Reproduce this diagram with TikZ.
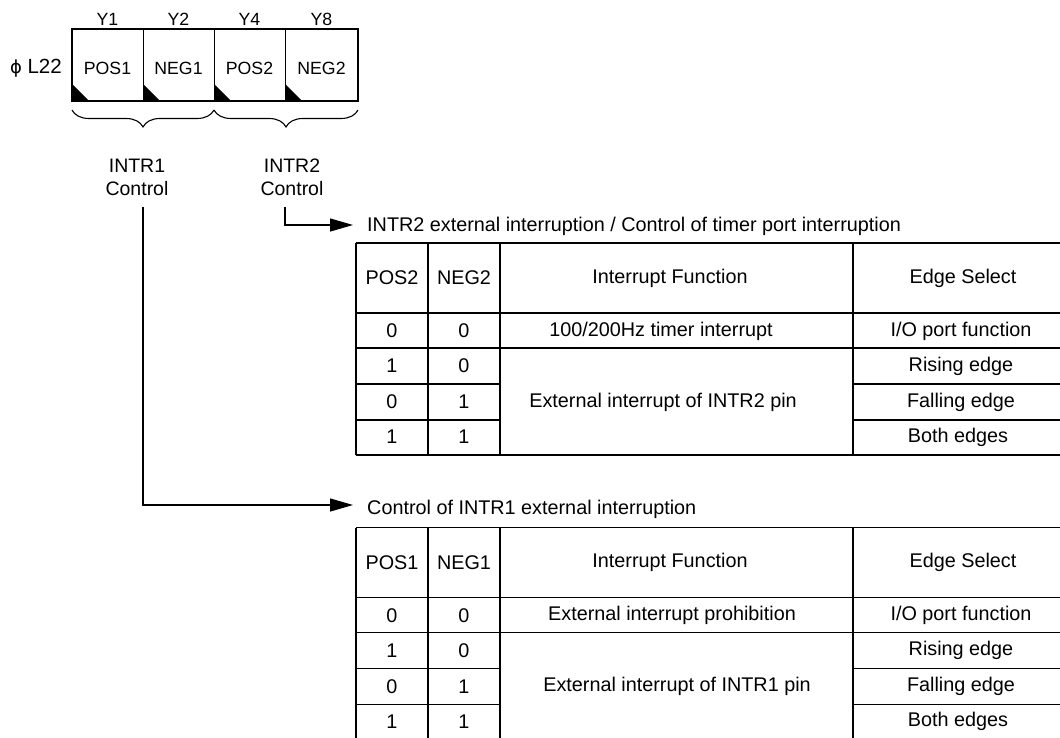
\documentclass[tikz,border=0pt]{standalone}
\usepackage{fontspec}
\setmainfont{Liberation Sans}
\newfontfamily\dejavu{DejaVu Sans}
\usetikzlibrary{arrows.meta,decorations.pathreplacing}
\begin{document}
\begin{tikzpicture}[x=1pt,y=-1pt,
  tb/.style={font=\fontsize{19.8}{23}\selectfont, inner sep=0pt, anchor=center},
  rg/.style={font=\fontsize{17.7}{21}\selectfont, inner sep=0pt, anchor=center},
  lbl/.style={font=\fontsize{19.5}{23}\selectfont, inner sep=0pt, align=center},
  ttl/.style={font=\fontsize{19.8}{23}\selectfont, inner sep=0pt, anchor=west},
  tline/.style={line width=1.6pt},
  thinline/.style={line width=0.9pt},
  conn/.style={line width=1.3pt, -{Triangle[length=23pt,width=13pt]}},
  brc/.style={line width=1.1pt, decorate, decoration={brace, mirror, amplitude=17pt}},
]
\useasboundingbox (0,0) rectangle (1060,738);
\clip (0,0) rectangle (1060,738);

% ---------- register ----------
\node[font=\fontsize{20.5}{23}\selectfont, inner sep=0pt, anchor=east] (l22) at (62,68) {{\dejavu\fontsize{18}{20}\selectfont ϕ} L22};
\foreach \x in {72,143,214,285}{
  \fill (\x,84) -- (\x,101) -- (\x+17,101) -- cycle;
}
\draw[thinline] (143,29) -- (143,101) (214,29) -- (214,101) (285,29) -- (285,101);
\draw[tline] (72,29) rectangle (358,101);
\node[rg] (y1) at (107.5,19) {Y1};
\node[rg] (y2) at (178.5,19) {Y2};
\node[rg] (y4) at (249.5,19) {Y4};
\node[rg] (y8) at (321.5,19) {Y8};
\node[rg] (rpos1) at (107.5,68) {POS1};
\node[rg] (rneg1) at (178.5,68) {NEG1};
\node[rg] (rpos2) at (249.5,68) {POS2};
\node[rg] (rneg2) at (321.5,68) {NEG2};

\draw[brc] (72,110) -- (214,110);
\draw[brc] (214,110) -- (358,110);

\node[lbl] (c1) at (137,177) {INTR1\\Control};
\node[lbl] (c2) at (292,177) {INTR2\\Control};

\coordinate (s1) at (143,207);
\coordinate (s2) at (285,207);
\coordinate (a1) at (353,225);
\coordinate (a2) at (353,505);
\draw[conn] (s2) |- (a1);
\draw[conn] (s1) |- (a2);

\node[ttl] (title2) at (367,226) {INTR2 external interruption / Control of timer port interruption};
\node[ttl] (title1) at (367,509) {Control of INTR1 external interruption};

% ---------- table macro ----------
\newcommand{\inttable}[6]{%
  % #1 POS, #2 NEG, #3 row1 text, #4 row1 x, #5 merged text, #6 merged x
  \draw[tline] (356,243) -- (1075,243);
  \draw[tline] (356,313) -- (1075,313);
  \draw[tline] (356,348) -- (1075,348);
  \draw[tline] (356,384) -- (500,384) (853,384) -- (1075,384);
  \draw[tline] (356,420) -- (500,420) (853,420) -- (1075,420);
  \draw[tline] (356,455) -- (1075,455);
  \draw[tline] (356,243) -- (356,455);
  \draw[tline] (428,243) -- (428,455);
  \draw[tline] (500,243) -- (500,455);
  \draw[tline] (853,243) -- (853,455);
  \node[tb] (hp) at (392,278) {#1};
  \node[tb] (hn) at (464,278) {#2};
  \node[tb] (hf) at (670,278) {Interrupt Function};
  \node[tb] (he) at (963,278) {Edge Select};
  \node[tb] (p1) at (392,331) {0};
  \node[tb] (n1) at (464,331) {0};
  \node[tb] (f1) at (#4,331) {#3};
  \node[tb] (e1) at (961,331) {I/O port function};
  \node[tb] (p2) at (392,366) {1};
  \node[tb] (n2) at (464,366) {0};
  \node[tb] (p3) at (392,402) {0};
  \node[tb] (n3) at (464,402) {1};
  \node[tb] (p4) at (392,437) {1};
  \node[tb] (n4) at (464,437) {1};
  \node[tb] (fm) at (#6,402) {#5};
  \node[tb] (e2) at (961,366) {Rising edge};
  \node[tb] (e3) at (961,402) {Falling edge};
  \node[tb] (e4) at (958,437) {Both edges};
}

\begin{scope}[name prefix=ta-]
\inttable{POS2}{NEG2}{100/200Hz timer interrupt}{661}{External interrupt of INTR2 pin}{663}
\end{scope}
\begin{scope}[name prefix=tb-, shift={(0,284.5)}]
\inttable{POS1}{NEG1}{External interrupt prohibition}{672}{External interrupt of INTR1 pin}{677}
\end{scope}
\end{tikzpicture}
\end{document}
